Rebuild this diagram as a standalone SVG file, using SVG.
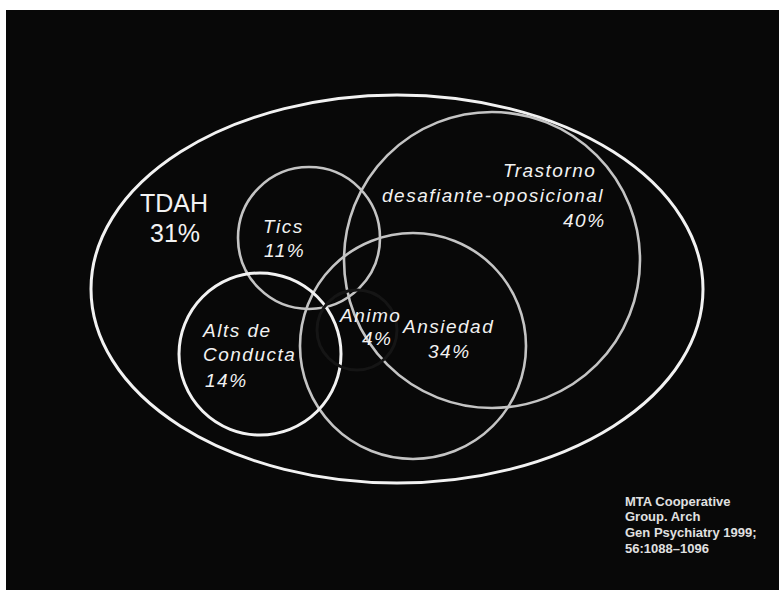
<svg xmlns="http://www.w3.org/2000/svg" width="779" height="590" viewBox="0 0 779 590">
<defs>
<style>
.bg{fill:#080808}
.outer{fill:none;stroke:#f2f2f2;stroke-width:3}
.white{fill:none;stroke:#f2f2f2;stroke-width:3}
.grey{fill:none;stroke:#c4c4c4;stroke-width:2.6}
.faint{fill:none;stroke:#151515;stroke-width:3}
.lbl{font-family:"Liberation Sans",Arial,sans-serif;font-style:italic;font-size:19px;letter-spacing:1.5px;fill:#f2f2f2}
.big{font-family:"Liberation Sans",Arial,sans-serif;font-size:25px;fill:#f2f2f2}
.ref{font-family:"Liberation Sans",Arial,sans-serif;font-size:13px;font-weight:bold;fill:#e0e0e0}
</style>
</defs>
<rect x="0" y="0" width="779" height="590" fill="#ffffff"/>
<rect class="bg" x="6" y="10" width="773" height="580"/>
<g id="tdah">
<ellipse class="outer" cx="397" cy="289" rx="306" ry="194"/>
<text class="big" x="140" y="212">TDAH</text>
<text class="big" x="150" y="242">31%</text>
</g>
<g id="tics">
<circle class="grey" cx="309" cy="238" r="71"/>
<text class="lbl" x="263" y="233">Tics</text>
<text class="lbl" x="264" y="257">11%</text>
</g>
<g id="odd">
<circle class="grey" cx="492" cy="260" r="148"/>
<text class="lbl" x="503" y="177">Trastorno</text>
<text class="lbl" x="382" y="202">desafiante-oposicional</text>
<text class="lbl" x="563" y="227">40%</text>
</g>
<g id="ansiedad">
<circle class="grey" cx="413" cy="346" r="113"/>
<text class="lbl" x="403" y="333">Ansiedad</text>
<text class="lbl" x="428" y="358">34%</text>
</g>
<g id="conducta">
<circle class="white" cx="260" cy="354" r="81"/>
<text class="lbl" x="203" y="337">Alts de</text>
<text class="lbl" x="203" y="361">Conducta</text>
<text class="lbl" x="205" y="387">14%</text>
</g>
<g id="animo">
<circle class="faint" cx="357" cy="330" r="40"/>
<text class="lbl" x="340" y="322">Animo</text>
<text class="lbl" x="362" y="345">4%</text>
</g>
<g id="connectors"/>
<g id="reference">
<text class="ref" x="625" y="506">MTA Cooperative</text>
<text class="ref" x="625" y="521">Group. Arch</text>
<text class="ref" x="625" y="537">Gen Psychiatry 1999;</text>
<text class="ref" x="625" y="553">56:1088–1096</text>
</g>
</svg>
